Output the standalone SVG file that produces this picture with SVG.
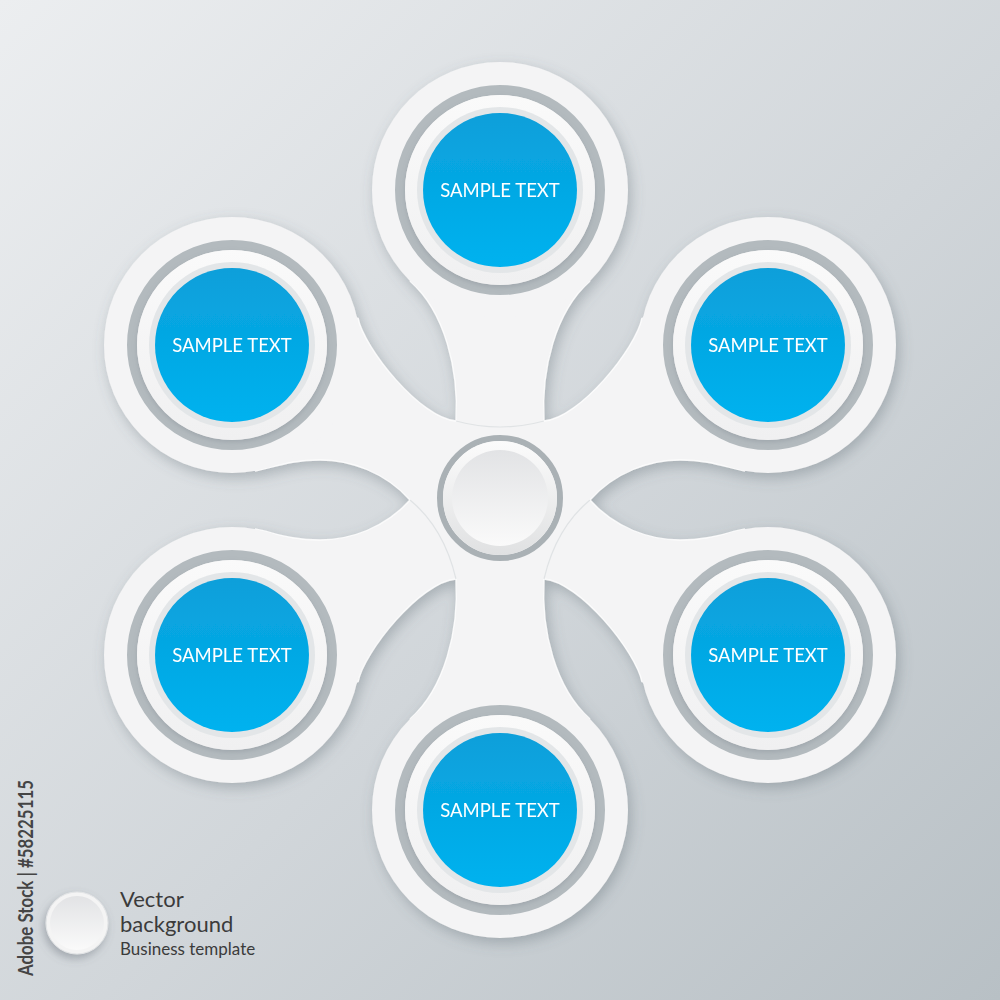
<svg xmlns="http://www.w3.org/2000/svg" xmlns:xlink="http://www.w3.org/1999/xlink" width="1000" height="1000" viewBox="0 0 1000 1000">
  <defs>
    <style>
      .plate { fill: #f4f4f5; }
      .ring { fill: none; stroke: #b3babe; stroke-width: 10; }
      .inner { fill: url(#innerGrad); }
      .band { fill: #e3e6e8; }
      .blue { fill: url(#blueGrad); }
      .lbl { font-family: Lato, "Open Sans", "Liberation Sans", sans-serif; font-size: 18.5px; fill: #ffffff; text-anchor: middle; }
      .edge { fill: none; stroke: #ffffff; stroke-width: 1.3; stroke-opacity: 0.85; }
      .fold { fill: none; stroke: #e0e3e5; stroke-width: 1.2; }
      .caption { font-family: Lato, "Open Sans", "Liberation Sans", sans-serif; fill: #3b3b3b; }
    </style>
    <linearGradient id="bgGrad" x1="0" y1="0" x2="1" y2="1">
      <stop offset="0" stop-color="#eceef0"/>
      <stop offset="0.55" stop-color="#d1d6da"/>
      <stop offset="1" stop-color="#b8c0c5"/>
    </linearGradient>
    <linearGradient id="blueGrad" x1="0" y1="0" x2="0" y2="1">
      <stop offset="0" stop-color="#0a9fda"/>
      <stop offset="1" stop-color="#00b2ef"/>
    </linearGradient>
    <linearGradient id="innerGrad" x1="0" y1="0" x2="0" y2="1">
      <stop offset="0" stop-color="#fafafa"/>
      <stop offset="1" stop-color="#f0f0f1"/>
    </linearGradient>
    <linearGradient id="bevelGrad" x1="0" y1="0" x2="0" y2="1">
      <stop offset="0" stop-color="#fbfbfb"/>
      <stop offset="1" stop-color="#e0e1e2"/>
    </linearGradient>
    <linearGradient id="concaveGrad" x1="0" y1="0" x2="0" y2="1">
      <stop offset="0" stop-color="#e2e3e5"/>
      <stop offset="1" stop-color="#fafafa"/>
    </linearGradient>
    <filter id="paperShadow" x="-20%" y="-20%" width="140%" height="140%">
      <feDropShadow dx="3" dy="5" stdDeviation="7" flood-color="#56626a" flood-opacity="0.35"/>
    </filter>
    <filter id="softShadow" x="-30%" y="-30%" width="160%" height="160%">
      <feDropShadow dx="0" dy="2" stdDeviation="2.5" flood-color="#6d7880" flood-opacity="0.3"/>
    </filter>
    <filter id="btnShadow" x="-50%" y="-50%" width="200%" height="200%">
      <feDropShadow dx="-2" dy="4" stdDeviation="4" flood-color="#56626a" flood-opacity="0.4"/>
    </filter>
    <path id="gapTL" d="M320,220 L350,310 L358,318 C364,348 420,418 456,421 C459,370 445,312 410,281 L430,230 Z"/>
    <path id="gapL" d="M200,470 L255,471 C275,467 290,460 320,460 C350,460 385,472 410,500 C385,528 350,540 320,540 C290,540 275,533 255,529 L200,530 Z"/>
    <path id="edgeTL" d="M358,318 C364,348 420,418 456,421 C459,370 445,312 410,281"/>
    <path id="edgeL" d="M255,471 C275,467 290,460 320,460 C350,460 385,472 410,500 C385,528 350,540 320,540 C290,540 275,533 255,529"/>
    <mask id="gapMask" maskUnits="userSpaceOnUse" x="0" y="0" width="1000" height="1000">
      <rect x="0" y="0" width="1000" height="1000" fill="#ffffff"/>
      <g fill="#000000">
        <use xlink:href="#gapTL"/>
        <use xlink:href="#gapTL" transform="matrix(-1 0 0 1 1000 0)"/>
        <use xlink:href="#gapTL" transform="matrix(1 0 0 -1 0 1000)"/>
        <use xlink:href="#gapTL" transform="matrix(-1 0 0 -1 1000 1000)"/>
        <use xlink:href="#gapL"/>
        <use xlink:href="#gapL" transform="matrix(-1 0 0 1 1000 0)"/>
      </g>
    </mask>
  </defs>

  <rect id="background" x="0" y="0" width="1000" height="1000" fill="url(#bgGrad)"/>

  <g id="flower" filter="url(#paperShadow)">
    <g id="connectors">
      <path id="body" class="plate" d="M500,190 L768,345 L768,655 L500,810 L232,655 L232,345 Z" mask="url(#gapMask)"/>
      <g class="edge">
        <use xlink:href="#edgeTL"/>
        <use xlink:href="#edgeTL" transform="matrix(-1 0 0 1 1000 0)"/>
        <use xlink:href="#edgeTL" transform="matrix(1 0 0 -1 0 1000)"/>
        <use xlink:href="#edgeTL" transform="matrix(-1 0 0 -1 1000 1000)"/>
        <use xlink:href="#edgeL"/>
        <use xlink:href="#edgeL" transform="matrix(-1 0 0 1 1000 0)"/>
      </g>
      <path class="fold" d="M456,421 Q500,433 544,421"/>
      <path class="fold" d="M410,500 Q444,528 456,579"/>
      <path class="fold" d="M590,500 Q556,528 544,579"/>
    </g>

    <g id="node-top" transform="translate(500,190)">
      <circle class="plate" r="128"/>
      <circle class="ring" r="100"/>
      <circle class="inner" r="95" filter="url(#softShadow)"/>
      <circle class="band" r="83"/>
      <circle class="blue" r="77"/>
      <text class="lbl" x="0" y="7">SAMPLE TEXT</text>
    </g>
    <g id="node-upper-left" transform="translate(232,345)">
      <circle class="plate" r="128"/>
      <circle class="ring" r="100"/>
      <circle class="inner" r="95" filter="url(#softShadow)"/>
      <circle class="band" r="83"/>
      <circle class="blue" r="77"/>
      <text class="lbl" x="0" y="7">SAMPLE TEXT</text>
    </g>
    <g id="node-upper-right" transform="translate(768,345)">
      <circle class="plate" r="128"/>
      <circle class="ring" r="100"/>
      <circle class="inner" r="95" filter="url(#softShadow)"/>
      <circle class="band" r="83"/>
      <circle class="blue" r="77"/>
      <text class="lbl" x="0" y="7">SAMPLE TEXT</text>
    </g>
    <g id="node-lower-left" transform="translate(232,655)">
      <circle class="plate" r="128"/>
      <circle class="ring" r="100"/>
      <circle class="inner" r="95" filter="url(#softShadow)"/>
      <circle class="band" r="83"/>
      <circle class="blue" r="77"/>
      <text class="lbl" x="0" y="7">SAMPLE TEXT</text>
    </g>
    <g id="node-lower-right" transform="translate(768,655)">
      <circle class="plate" r="128"/>
      <circle class="ring" r="100"/>
      <circle class="inner" r="95" filter="url(#softShadow)"/>
      <circle class="band" r="83"/>
      <circle class="blue" r="77"/>
      <text class="lbl" x="0" y="7">SAMPLE TEXT</text>
    </g>
    <g id="node-bottom" transform="translate(500,810)">
      <circle class="plate" r="128"/>
      <circle class="ring" r="100"/>
      <circle class="inner" r="95" filter="url(#softShadow)"/>
      <circle class="band" r="83"/>
      <circle class="blue" r="77"/>
      <text class="lbl" x="0" y="7">SAMPLE TEXT</text>
    </g>
    <g id="node-hub" transform="translate(500,498)">
      <circle r="60" fill="none" stroke="#aab1b5" stroke-width="6"/>
      <circle r="57" fill="url(#bevelGrad)"/>
      <circle r="48" fill="url(#concaveGrad)"/>
    </g>
  </g>

  <g id="badge">
    <g transform="translate(77,923)">
      <circle r="31" fill="#f4f4f4" stroke="#e2e4e6" stroke-width="1" filter="url(#btnShadow)"/>
      <circle r="27" fill="url(#concaveGrad)"/>
    </g>
    <text class="caption" x="120" y="907" font-size="22">Vector</text>
    <text class="caption" x="120" y="932" font-size="22">background</text>
    <text class="caption" x="120" y="955" font-size="17">Business template</text>
  </g>

  <text transform="translate(33,976) rotate(-90)" font-family="Lato, 'Open Sans', 'Liberation Sans', sans-serif" font-weight="bold" font-size="20" fill="#454545" textLength="196" lengthAdjust="spacingAndGlyphs">Adobe Stock | #58225115</text>
</svg>
